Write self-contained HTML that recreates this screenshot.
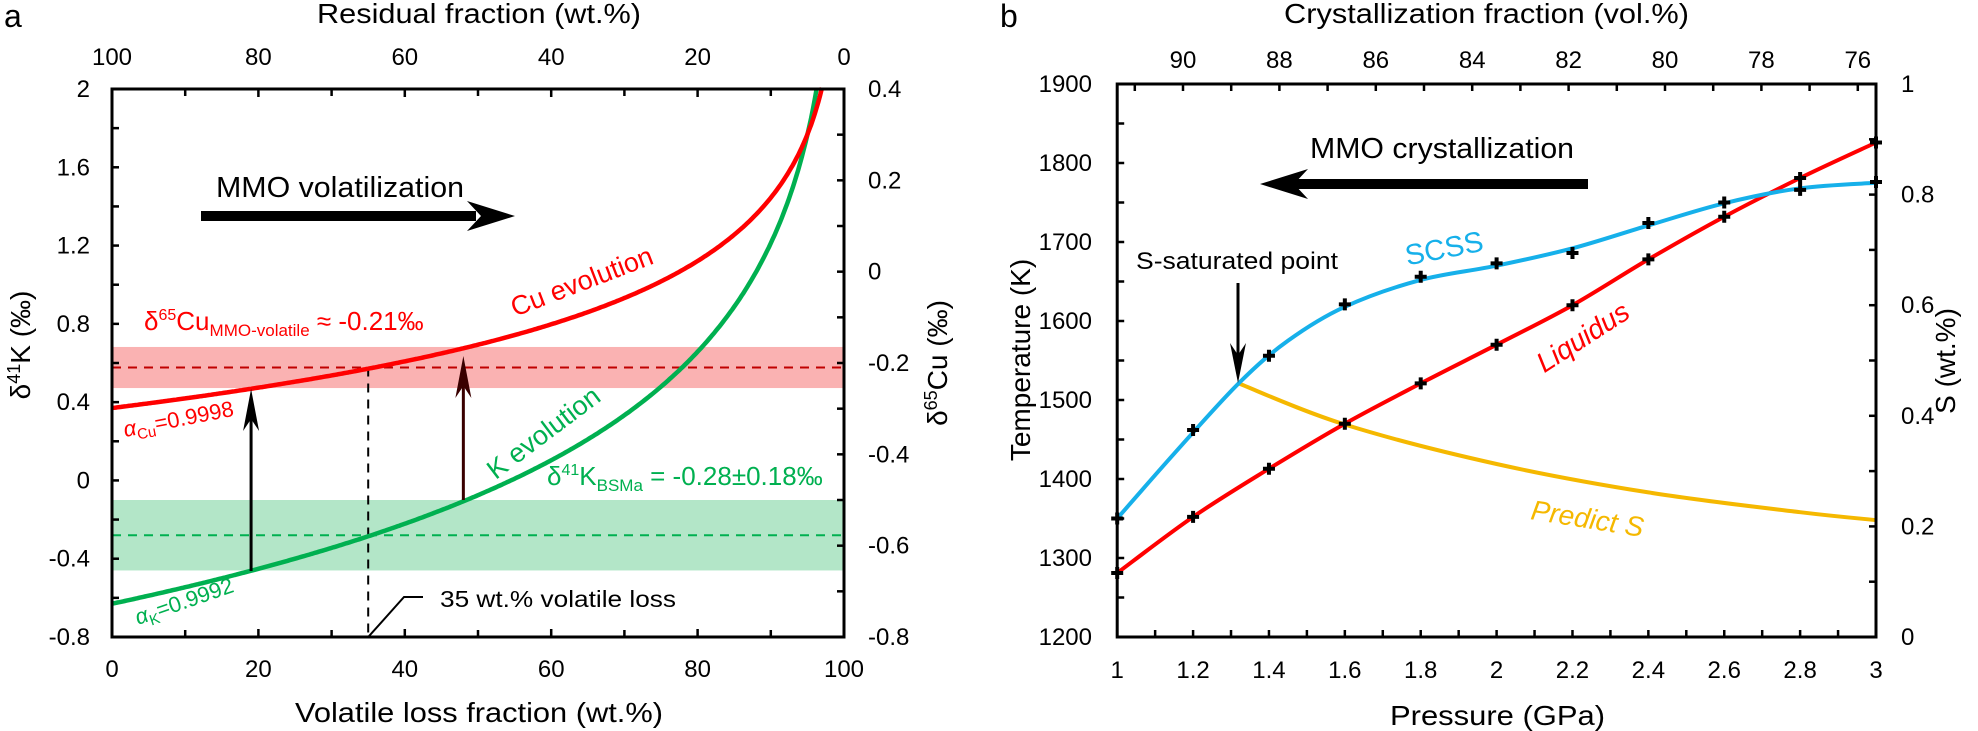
<!DOCTYPE html>
<html><head><meta charset="utf-8"><style>
html,body{margin:0;padding:0;background:#fff;}
svg{display:block;font-family:"Liberation Sans",Arial,sans-serif;}
</style></head><body>
<svg id="s" width="1978" height="731" viewBox="0 0 1978 731" xmlns="http://www.w3.org/2000/svg">
<g id="bg"></g>
<g id="cv"></g>
<g id="ax"></g>
<g id="tx" font-size="24">
<!-- panel a -->
<text x="4" y="27" font-size="32">a</text>
<text x="317" y="23" font-size="28" textLength="324" lengthAdjust="spacingAndGlyphs">Residual fraction (wt.%)</text>
<text x="295" y="722" font-size="28" textLength="368" lengthAdjust="spacingAndGlyphs">Volatile loss fraction (wt.%)</text>
<text transform="translate(30,345) rotate(-90)" font-size="28" text-anchor="middle">δ<tspan font-size="18" dy="-10">41</tspan><tspan dy="10">K (‰)</tspan></text>
<text transform="translate(947,363) rotate(-90)" font-size="28" text-anchor="middle">δ<tspan font-size="18" dy="-10">65</tspan><tspan dy="10">Cu (‰)</tspan></text>
<text x="216" y="197" font-size="29" textLength="248" lengthAdjust="spacingAndGlyphs">MMO volatilization</text>
<text x="440" y="607" font-size="23" textLength="236" lengthAdjust="spacingAndGlyphs">35 wt.% volatile loss</text>
<text x="144" y="330" font-size="26" fill="#ff0000">δ<tspan font-size="16" dy="-10">65</tspan><tspan dy="10">Cu</tspan><tspan font-size="17" dy="6">MMO-volatile</tspan><tspan dy="-6"> ≈ -0.21‰</tspan></text>
<text transform="translate(585,290) rotate(-21)" font-size="27" fill="#ff0000" text-anchor="middle">Cu evolution</text>
<text transform="translate(125,437) rotate(-11)" font-size="22" fill="#ff0000"><tspan font-style="italic">α</tspan><tspan font-size="15" dy="5">Cu</tspan><tspan dy="-5">=0.9998</tspan></text>
<text transform="translate(549,440) rotate(-37)" font-size="27" fill="#00b050" text-anchor="middle">K evolution</text>
<text x="547" y="485" font-size="26" fill="#00b050">δ<tspan font-size="16" dy="-10">41</tspan><tspan dy="10">K</tspan><tspan font-size="17" dy="6">BSMa</tspan><tspan dy="-6"> = -0.28±0.18‰</tspan></text>
<text transform="translate(138,625) rotate(-19)" font-size="22" fill="#00b050"><tspan font-style="italic">α</tspan><tspan font-size="15" dy="5">K</tspan><tspan dy="-5">=0.9992</tspan></text>
<!-- panel b -->
<text x="1000" y="27" font-size="32">b</text>
<text x="1284" y="23" font-size="28" textLength="405" lengthAdjust="spacingAndGlyphs">Crystallization fraction (vol.%)</text>
<text x="1390" y="725" font-size="28" textLength="215" lengthAdjust="spacingAndGlyphs">Pressure (GPa)</text>
<text transform="translate(1030,360) rotate(-90)" font-size="28" text-anchor="middle">Temperature (K)</text>
<text transform="translate(1955,361) rotate(-90)" font-size="28" text-anchor="middle">S (wt.%)</text>
<text x="1310" y="158" font-size="29" textLength="264" lengthAdjust="spacingAndGlyphs">MMO crystallization</text>
<text x="1136" y="269" font-size="24" textLength="202" lengthAdjust="spacingAndGlyphs">S-saturated point</text>
<text transform="translate(1446,258) rotate(-11)" font-size="29" fill="#16b0ea" text-anchor="middle">SCSS</text>
<text transform="translate(1588,345) rotate(-33)" font-size="28" fill="#ff0000" text-anchor="middle" font-style="italic">Liquidus</text>
<text transform="translate(1586,528) rotate(9)" font-size="28" fill="#f5b800" text-anchor="middle" font-style="italic">Predict S</text>
</g>
</svg>
<script>
var NS="http://www.w3.org/2000/svg";
function el(p,t,a,txt){var e=document.createElementNS(NS,t);for(var k in a)e.setAttribute(k,a[k]);if(txt!==undefined)e.textContent=txt;document.getElementById(p).appendChild(e);return e;}
var L=112,R=844,T=89,B=637;
function ax(v){return L+v*(R-L)/100;}
function ay(v){return T+(2-v)*(B-T)/2.8;}
el('bg','rect',{x:L,y:ay(0.682),width:R-L,height:ay(0.472)-ay(0.682),fill:'#fab2b2'});
el('bg','rect',{x:L,y:ay(-0.10),width:R-L,height:ay(-0.46)-ay(-0.10),fill:'#b3e6c8'});
el('bg','line',{x1:L,x2:R,y1:ay(0.577),y2:ay(0.577),stroke:'#c00000','stroke-width':2,'stroke-dasharray':'9,7'});
el('bg','line',{x1:L,x2:R,y1:ay(-0.28),y2:ay(-0.28),stroke:'#00b050','stroke-width':2,'stroke-dasharray':'9,7'});
el('bg','line',{x1:ax(35),x2:ax(35),y1:ay(0.577),y2:B,stroke:'#000','stroke-width':2,'stroke-dasharray':'9,7'});
el('bg','polyline',{points:ax(35)+','+B+' 404,597 423,597',fill:'none',stroke:'#000','stroke-width':2});
function curve(d0,s){var pts=[];for(var x=0;x<=99.5;x+=0.25){var f=1-x/100;var v=d0+s*(-Math.log(f));if(v>2.02)break;pts.push(ax(x).toFixed(1)+','+ay(v).toFixed(1));}return pts.join(' ');}
el('cv','polyline',{points:curve(-0.63,0.8),fill:'none',stroke:'#00b050','stroke-width':4.5});
el('cv','polyline',{points:curve(0.37,0.4667),fill:'none',stroke:'#ff0000','stroke-width':4.5});
function varrow(x,y1,y2,col){el('cv','line',{x1:x,x2:x,y1:y1,y2:y2+20,stroke:col,'stroke-width':3});
el('cv','polygon',{points:x+','+y2+' '+(x-8)+','+(y2+42)+' '+x+','+(y2+30)+' '+(x+8)+','+(y2+42),fill:col});}
varrow(ax(19),571,389,'#000');
varrow(ax(48),500,356,'#3a0000');
el('cv','rect',{x:201,y:211,width:275,height:10,fill:'#000'});
el('cv','polygon',{points:'515,216 467,201 481,216 467,231',fill:'#000'});
el('ax','rect',{x:L,y:T,width:R-L,height:B-T,fill:'none',stroke:'#000','stroke-width':3});
for(var i=0;i<=10;i++){var x=ax(i*10);var len=(i%2==0)?8:7;
 el('ax','line',{x1:x,x2:x,y1:B,y2:B-len,stroke:'#000','stroke-width':2.5});
 el('ax','line',{x1:x,x2:x,y1:T,y2:T+len,stroke:'#000','stroke-width':2.5});
 if(i%2==0){el('tx','text',{x:x,y:677,'text-anchor':'middle'},String(i*10));
  el('tx','text',{x:x,y:65,'text-anchor':'middle'},String(100-i*10));}}
for(var i=0;i<=14;i++){var v=-0.8+i*0.2;var y=ay(v);
 el('ax','line',{x1:L,x2:L+7,y1:y,y2:y,stroke:'#000','stroke-width':2.5});
 if(i%2==0){var s=(Math.abs(v)<1e-9)?'0':(Math.round(v*10)/10).toString();el('tx','text',{x:90,y:y+8,'text-anchor':'end'},s);}}
for(var i=0;i<=12;i++){var v=-0.8+i*0.1;var y=B-i*(B-T)/12;
 el('ax','line',{x1:R,x2:R-7,y1:y,y2:y,stroke:'#000','stroke-width':2.5});
 if(i%2==0){var s=(Math.abs(v)<1e-9)?'0':(Math.round(v*10)/10).toString();el('tx','text',{x:868,y:y+8},s);}}
var bL=1117.2,bR=1876,bT=84,bB=637;
function bx(p){return bL+(p-1)*379.4;}
function by(t){return bB-(t-1200)*(bB-bT)/700;}
function spline(pts){
 var d='M'+pts[0][0]+','+pts[0][1];
 for(var i=0;i<pts.length-1;i++){var p0=pts[Math.max(i-1,0)],p1=pts[i],p2=pts[i+1],p3=pts[Math.min(i+2,pts.length-1)];
  var c1=[p1[0]+(p2[0]-p0[0])/6,p1[1]+(p2[1]-p0[1])/6],c2=[p2[0]-(p3[0]-p1[0])/6,p2[1]-(p3[1]-p1[1])/6];
  d+=' C'+c1[0].toFixed(1)+','+c1[1].toFixed(1)+' '+c2[0].toFixed(1)+','+c2[1].toFixed(1)+' '+p2[0].toFixed(1)+','+p2[1].toFixed(1);}
 return d;}
var liq=[[1,1281],[1.2,1352],[1.4,1413],[1.6,1470],[1.8,1521],[2,1570],[2.2,1620],[2.4,1678],[2.6,1732],[2.8,1781],[3,1826]];
var scssM=[[1,1350],[1.2,1462],[1.4,1556],[1.6,1621],[1.8,1656],[2,1673],[2.2,1686],[2.4,1724],[2.6,1750],[2.8,1766],[3,1776]];
var scssC=[[1,1350],[1.15,1432],[1.32,1521],[1.45,1575],[1.6,1618],[1.8,1652],[2,1670],[2.2,1692],[2.4,1721],[2.6,1749],[2.8,1768],[3,1775]];
var ps=[[1.32,1521],[1.6,1469],[2,1419],[2.4,1383],[2.8,1358],[3,1348]];
function map(a){return a.map(function(p){return [bx(p[0]),by(p[1])];});}
el('cv','path',{d:spline(map(ps)),fill:'none',stroke:'#f5b800','stroke-width':4});
el('cv','path',{d:spline(map(liq)),fill:'none',stroke:'#ff0000','stroke-width':4});
el('cv','path',{d:spline(map(scssC)),fill:'none',stroke:'#16b0ea','stroke-width':4});
function plus(x,y){el('cv','path',{d:'M'+(x-6)+','+y+'h12M'+x+','+(y-6)+'v12',stroke:'#000','stroke-width':4});}
liq.concat(scssM).forEach(function(p){plus(bx(p[0]),by(p[1]));});
el('cv','line',{x1:1238,x2:1238,y1:283,y2:360,stroke:'#000','stroke-width':3});
el('cv','polygon',{points:'1238,383 1230,343 1238,355 1246,343',fill:'#000'});
el('cv','rect',{x:1290,y:179,width:298,height:10,fill:'#000'});
el('cv','polygon',{points:'1260,184 1308,169 1294,184 1308,199',fill:'#000'});
el('ax','rect',{x:bL,y:bT,width:bR-bL,height:bB-bT,fill:'none',stroke:'#000','stroke-width':3});
for(var i=0;i<=20;i++){var p=1+i*0.1;var x=bx(p);
 el('ax','line',{x1:x,x2:x,y1:bB,y2:bB-7,stroke:'#000','stroke-width':2.5});
 if(i%2==0){var s=(Math.round(p*10)/10).toString();el('tx','text',{x:x,y:678,'text-anchor':'middle'},s);}}
for(var c=91;c>=75;c--){var x=1183+(90-c)*48.2;if(x<bL+2||x>bR-2)continue;
 el('ax','line',{x1:x,x2:x,y1:bT,y2:bT+7,stroke:'#000','stroke-width':2.5});
 if(c%2==0)el('tx','text',{x:x,y:68,'text-anchor':'middle'},String(c));}
for(var i=0;i<=14;i++){var t=1200+i*50;var y=by(t);
 el('ax','line',{x1:bL,x2:bL+7,y1:y,y2:y,stroke:'#000','stroke-width':2.5});
 if(i%2==0)el('tx','text',{x:1092,y:y+8,'text-anchor':'end'},String(t));}
for(var i=0;i<=10;i++){var y=bB-i*(bB-bT)/10;
 el('ax','line',{x1:bR,x2:bR-7,y1:y,y2:y,stroke:'#000','stroke-width':2.5});
 if(i%2==0){var s=(i==0)?'0':(i==10)?'1':(i/10).toString();el('tx','text',{x:1901,y:y+8},s);}}
</script>
</body></html>
